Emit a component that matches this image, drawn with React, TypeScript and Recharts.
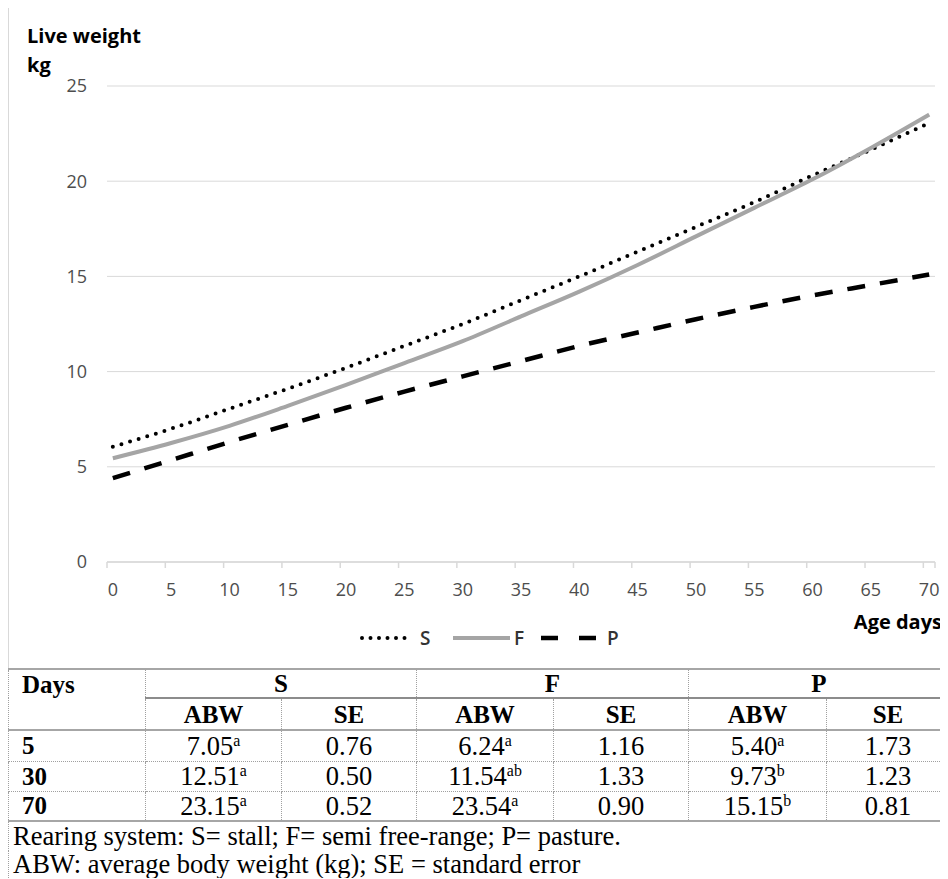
import React from 'react';
import { LineChart, Line, XAxis, YAxis, CartesianGrid } from 'recharts';

// ---- chart data ----
const ageDays = [0, 5, 10, 15, 20, 25, 30, 35, 40, 45, 50, 55, 60, 65, 70];
const stallWeight = [6.05, 7.0, 8.05, 9.1, 10.2, 11.35, 12.5, 13.75, 15.0, 16.3, 17.6, 18.9, 20.3, 21.65, 23.05];
const semiFreeWeight = [5.45, 6.25, 7.15, 8.2, 9.3, 10.45, 11.6, 12.9, 14.2, 15.6, 17.1, 18.6, 20.1, 21.75, 23.5];
const pastureWeight = [4.4, 5.35, 6.3, 7.2, 8.1, 8.95, 9.75, 10.55, 11.35, 12.05, 12.75, 13.4, 14.0, 14.55, 15.1];

const yTicks = [0, 5, 10, 15, 20, 25];
const xLabelTicks = [0, 5, 10, 15, 20, 25, 30, 35, 40, 45, 50, 55, 60, 65, 70];
const xMarkTicks = [-0.5, 4.5, 9.5, 14.5, 19.5, 24.5, 29.5, 34.5, 39.5, 44.5, 49.5, 54.5, 59.5, 64.5, 69.5, 70.5];

// ---- table data ----
const tableDays = ['5', '30', '70'];
const stallAbw = ['7.05', '12.51', '23.15'];
const stallSup = ['a', 'a', 'a'];
const stallSe = ['0.76', '0.50', '0.52'];
const semiAbw = ['6.24', '11.54', '23.54'];
const semiSup = ['a', 'ab', 'a'];
const semiSe = ['1.16', '1.33', '0.90'];
const pastAbw = ['5.40', '9.73', '15.15'];
const pastSup = ['a', 'b', 'b'];
const pastSe = ['1.73', '1.23', '0.81'];
const groupHeads = ['S', 'F', 'P'];
const footnotes = [
  'Rearing system: S= stall; F= semi free-range; P= pasture.',
  'ABW: average body weight (kg); SE = standard error',
];

const chartData = ageDays.map((d, i) => ({
  day: d,
  S: stallWeight[i],
  F: semiFreeWeight[i],
  P: pastureWeight[i],
}));

const SANS = '"Open Sans", sans-serif';
const SERIF = '"Liberation Serif", "Times New Roman", serif';
const GRID = '#d9d9d9';
const TICK_FILL = '#4d4d4d';

const solidLine = '2px solid #a6a6a6';
const groupLine = '2px solid #8c8c8c';
const dottedLine = '1px dotted #a0a0a0';

const cellBase: React.CSSProperties = {
  padding: 0,
  textAlign: 'center',
  verticalAlign: 'middle',
  borderLeft: dottedLine,
  borderRight: dottedLine,
  whiteSpace: 'nowrap',
  overflow: 'visible',
  fontSize: 26.5,
};

const boldCell: React.CSSProperties = { ...cellBase, fontWeight: 700, fontSize: 25 };

function Sup({ t }: { t: string }) {
  return (
    <span style={{ fontSize: '0.6em', position: 'relative', top: '-0.55em', lineHeight: 0 }}>{t}</span>
  );
}

// tick mark only (no label) for the category-boundary axis, pointing down
function MarkTick(props: any) {
  const { x, y } = props;
  return <line x1={x} y1={y} x2={x} y2={y + 6} stroke={GRID} strokeWidth={1.5} />;
}

export default function App() {
  const groups = [
    { abw: stallAbw, sup: stallSup, se: stallSe },
    { abw: semiAbw, sup: semiSup, se: semiSe },
    { abw: pastAbw, sup: pastSup, se: pastSe },
  ];
  const colWidths = [137, 136, 135, 137, 135, 138, 123];
  const last = tableDays.length - 1;
  return (
    <div style={{ width: 941, position: 'relative' }}>
      <style>{'html,body{overflow:hidden}'}</style>
      <div
        style={{
          position: 'relative',
          width: 941,
          height: 661,
          marginTop: -1,
          borderLeft: `1px solid ${GRID}`,
          borderTop: `1px solid ${GRID}`,
          boxSizing: 'border-box',
        }}
      >
        <div style={{ position: 'absolute', left: -1, top: -1 }}>
          <LineChart
            width={940}
            height={660}
            data={chartData}
            margin={{ top: 79, right: 13, left: 0, bottom: 0 }}
          >
            <CartesianGrid vertical={false} stroke={GRID} strokeWidth={1} xAxisId="b_days" />
            <XAxis
              xAxisId="b_days"
              type="number"
              dataKey="day"
              domain={[-0.5, 70.5]}
              ticks={xLabelTicks}
              interval={0}
              tickLine={false}
              axisLine={false}
              tickSize={6}
              tickMargin={14}
              height={104}
              tick={{ fill: TICK_FILL, fontSize: 18, fontFamily: SANS }}
              allowDataOverflow
            />
            <XAxis
              xAxisId="a_marks"
              type="number"
              dataKey="day"
              domain={[-0.5, 70.5]}
              ticks={xMarkTicks}
              interval={0}
              tick={MarkTick}
              tickSize={0}
              tickMargin={0}
              tickLine={false}
              height={1}
              axisLine={{ stroke: GRID, strokeWidth: 1.5 }}
              allowDataOverflow
            />
            <YAxis
              type="number"
              domain={[0, 25]}
              ticks={yTicks}
              interval={0}
              width={99}
              axisLine={false}
              tickLine={false}
              tickSize={6}
              tickMargin={14}
              tick={{ fill: TICK_FILL, fontSize: 18, fontFamily: SANS }}
            />
            <Line
              xAxisId="b_days"
              type="monotone"
              dataKey="S"
              stroke="#000000"
              strokeWidth={4}
              strokeDasharray="0 9"
              strokeLinecap="round"
              dot={false}
              activeDot={false}
              isAnimationActive={false}
            />
            <Line
              xAxisId="b_days"
              type="monotone"
              dataKey="F"
              stroke="#a5a5a5"
              strokeWidth={4}
              dot={false}
              activeDot={false}
              isAnimationActive={false}
            />
            <Line
              xAxisId="b_days"
              type="monotone"
              dataKey="P"
              stroke="#000000"
              strokeWidth={4.5}
              strokeDasharray="18 15"
              dot={false}
              activeDot={false}
              isAnimationActive={false}
            />
          </LineChart>
        </div>
        <svg
          width={940}
          height={660}
          style={{ position: 'absolute', left: -1, top: -1, pointerEvents: 'none' }}
        >
          <text x={19} y={36} fontFamily={SANS} fontWeight={700} fontSize={20} fill="#000">Live weight</text>
          <text x={19} y={65} fontFamily={SANS} fontWeight={700} fontSize={20} fill="#000">kg</text>
          <text x={934} y={622} textAnchor="end" fontFamily={SANS} fontWeight={700} fontSize={20} fill="#000">Age days</text>
          {/* legend */}
          <g fontFamily={SANS} fontSize={19} fontWeight={600} fill="#333333">
            <line x1={354} y1={631} x2={402} y2={631} stroke="#000" strokeWidth={4} strokeDasharray="0 8.5" strokeLinecap="round" />
            <text x={412} y={638}>S</text>
            <line x1={445} y1={631} x2={502} y2={631} stroke="#a5a5a5" strokeWidth={4} />
            <text x={506} y={638}>F</text>
            <line x1={533} y1={631} x2={589} y2={631} stroke="#000" strokeWidth={4.5} strokeDasharray="17 21" />
            <text x={599} y={638}>P</text>
          </g>
        </svg>
      </div>
      <table
        style={{
          borderCollapse: 'collapse',
          tableLayout: 'fixed',
          width: 941,
          fontFamily: SERIF,
          color: '#000',
          lineHeight: 1,
        }}
      >
        <colgroup>
          {colWidths.map((w, i) => (
            <col key={i} style={{ width: w }} />
          ))}
        </colgroup>
        <tbody>
          <tr style={{ height: 29 }}>
            <td style={{ ...boldCell, textAlign: 'left', paddingLeft: 13, borderTop: solidLine }}>Days</td>
            {groupHeads.map((g) => (
              <td key={g} colSpan={2} style={{ ...boldCell, borderTop: solidLine, borderBottom: groupLine }}>
                {g}
              </td>
            ))}
          </tr>
          <tr style={{ height: 32 }}>
            <td style={{ ...cellBase, borderBottom: solidLine }}></td>
            {groupHeads.map((g) => (
              <React.Fragment key={g}>
                <td style={{ ...boldCell, borderBottom: solidLine }}>ABW</td>
                <td style={{ ...boldCell, borderBottom: solidLine }}>SE</td>
              </React.Fragment>
            ))}
          </tr>
          {tableDays.map((d, r) => (
            <tr key={d} style={{ height: r === 0 ? 31 : 30 }}>
              <td
                style={{
                  ...boldCell,
                  textAlign: 'left',
                  paddingLeft: 13,
                  borderBottom: r === last ? solidLine : dottedLine,
                }}
              >
                {d}
              </td>
              {groups.map((g, gi) => (
                <React.Fragment key={gi}>
                  <td style={{ ...cellBase, borderBottom: r === last ? solidLine : dottedLine }}>
                    {g.abw[r]}
                    <Sup t={g.sup[r]} />
                  </td>
                  <td style={{ ...cellBase, borderBottom: r === last ? solidLine : dottedLine }}>
                    {g.se[r]}
                  </td>
                </React.Fragment>
              ))}
            </tr>
          ))}
          {footnotes.map((f, i) => (
            <tr key={i} style={{ height: i === 0 ? 30 : 27 }}>
              <td colSpan={7} style={{ ...cellBase, textAlign: 'left', paddingLeft: 4, borderRight: 'none' }}>
                {f}
              </td>
            </tr>
          ))}
        </tbody>
      </table>
    </div>
  );
}
